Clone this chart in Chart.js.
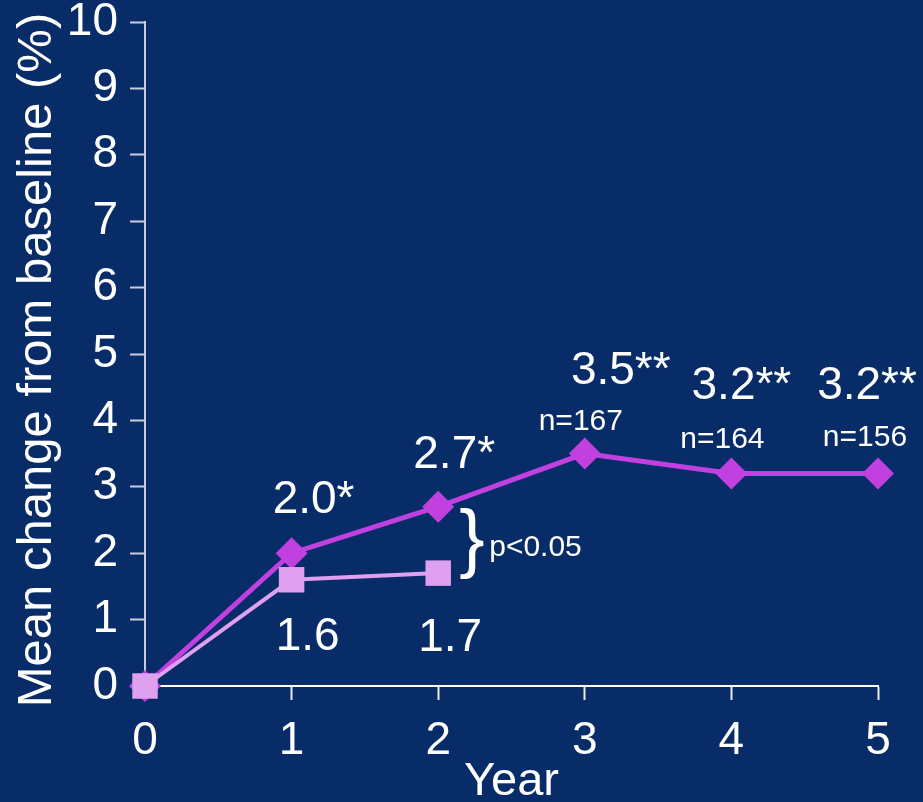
<!DOCTYPE html>
<html lang="en">
<head>
    <meta charset="UTF-8">
    <title>Mean change from baseline</title>
    <style>
        body {
            margin: 0;
            background: #082c68;
        }
        #wrap {
            width: 923px;
            height: 802px;
        }
    </style>
    <script src="https://cdn.jsdelivr.net/npm/chart.js"></script>
</head>
<body>
    <div id="wrap"><canvas id="bmdChart" width="923" height="802"></canvas></div>

    <script>
        // Values per study year
        const years = [0, 1, 2, 3, 4, 5];
        const treated = [0, 2.0, 2.7, 3.5, 3.2, 3.2];
        const control = [0, 1.6, 1.7, null, null, null];
        const treatedMarks = ['', '*', '*', '**', '**', '**'];
        const sampleSizes = [null, null, null, 167, 164, 156];
        const yTicks = [0, 1, 2, 3, 4, 5, 6, 7, 8, 9, 10];
        const pLabel = 'p<0.05';
        const yTitle = 'Mean change from baseline (%)';

        const FONT = '"Liberation Sans", Arial, sans-serif';
        const PURPLE = '#c040e0';
        const LILAC = '#e0a0f0';

        const toPoints = vals => years
            .map((x, i) => ({ x: x, y: vals[i] }))
            .filter(p => p.y !== null);

        // per-label nudges so the text sits clear of the markers
        const labelStyle = {
            treatedDx: [0, 22, 16, 36, 10, -11],
            treatedDy: [0, -53, -51, -82, -87, -87],
            nDx: [0, 0, 0, -4, -9, -13],
            nDy: [0, 0, 0, -32, -34, -36],
            controlDx: [0, 16, 12],
            controlDy: [0, 58, 65]
        };

        const valueLabels = {
            id: 'valueLabels',
            afterDatasetsDraw(chart) {
                const ctx = chart.ctx;
                const treatedMeta = chart.getDatasetMeta(1);
                const controlMeta = chart.getDatasetMeta(0);
                ctx.save();
                ctx.fillStyle = '#ffffff';
                ctx.textAlign = 'center';
                ctx.textBaseline = 'middle';

                // treated group: value + significance marks, sample size below
                treatedMeta.data.forEach((pt, i) => {
                    if (i === 0) return;
                    ctx.font = '46px ' + FONT;
                    ctx.fillText(treated[i].toFixed(1) + treatedMarks[i],
                        pt.x + labelStyle.treatedDx[i], pt.y + labelStyle.treatedDy[i]);
                    if (sampleSizes[i] !== null) {
                        ctx.font = '30px ' + FONT;
                        ctx.fillText('n=' + sampleSizes[i],
                            pt.x + labelStyle.nDx[i], pt.y + labelStyle.nDy[i]);
                    }
                });

                // control group values under the squares
                controlMeta.data.forEach((pt, i) => {
                    if (i === 0) return;
                    ctx.font = '46px ' + FONT;
                    ctx.fillText(control[i].toFixed(1),
                        pt.x + labelStyle.controlDx[i], pt.y + labelStyle.controlDy[i]);
                });

                // brace between the two year-2 points
                const a = treatedMeta.data[2];
                const b = controlMeta.data[2];
                const midY = (a.y + b.y) / 2;
                ctx.textAlign = 'left';
                ctx.font = '76px ' + FONT;
                ctx.fillText('}', a.x + 21, midY + 2);
                ctx.font = '30px ' + FONT;
                ctx.fillText(pLabel, a.x + 51, midY + 8);

                // y axis title, rotated
                ctx.translate(37, 360);
                ctx.rotate(-Math.PI / 2);
                ctx.textAlign = 'center';
                ctx.font = '49px ' + FONT;
                ctx.fillText(yTitle, 0, 0);
                ctx.restore();
            }
        };

        new Chart(document.getElementById('bmdChart'), {
            type: 'line',
            data: {
                datasets: [{
                    label: 'Control',
                    data: toPoints(control),
                    borderColor: LILAC,
                    backgroundColor: LILAC,
                    borderWidth: 4,
                    pointStyle: 'rect',
                    pointRadius: 18,
                    pointHoverRadius: 18,
                    pointBorderWidth: 0,
                    clip: false
                }, {
                    label: 'Treated',
                    data: toPoints(treated),
                    borderColor: PURPLE,
                    backgroundColor: PURPLE,
                    borderWidth: 5,
                    pointStyle: 'rectRot',
                    pointRadius: 16,
                    pointHoverRadius: 16,
                    pointBorderWidth: 0,
                    clip: false
                }]
            },
            options: {
                responsive: false,
                animation: false,
                events: [],
                layout: { padding: { top: 22, right: 45, left: 0, bottom: 0 } },
                plugins: {
                    legend: { display: false },
                    tooltip: { enabled: false }
                },
                scales: {
                    x: {
                        type: 'linear',
                        min: years[0],
                        max: years[years.length - 1],
                        afterFit: s => { s.height = 116; },
                        ticks: {
                            stepSize: 1,
                            color: '#ffffff',
                            padding: 14,
                            font: { family: FONT, size: 46 }
                        },
                        grid: {
                            drawOnChartArea: false,
                            drawTicks: true,
                            tickLength: 14,
                            tickWidth: 2,
                            color: '#e8ebf2'
                        },
                        border: { display: true, color: '#ffffff', width: 2 },
                        title: {
                            display: true,
                            text: 'Year',
                            color: '#ffffff',
                            padding: 0,
                            font: { family: FONT, size: 47, lineHeight: 0.85 }
                        }
                    },
                    y: {
                        min: yTicks[0],
                        max: yTicks[yTicks.length - 1],
                        afterFit: s => { s.width = 145; },
                        afterBuildTicks: s => { s.ticks = yTicks.map(v => ({ value: v })); },
                        ticks: {
                            color: '#ffffff',
                            padding: 12,
                            font: { family: FONT, size: 46, lineHeight: 0.4 }
                        },
                        grid: {
                            drawOnChartArea: false,
                            drawTicks: true,
                            tickLength: 15,
                            tickWidth: 2,
                            color: '#c8cdd9'
                        },
                        border: { display: true, color: '#c8cdd9', width: 2 }
                    }
                }
            },
            plugins: [valueLabels]
        });
    </script>
</body>
</html>
